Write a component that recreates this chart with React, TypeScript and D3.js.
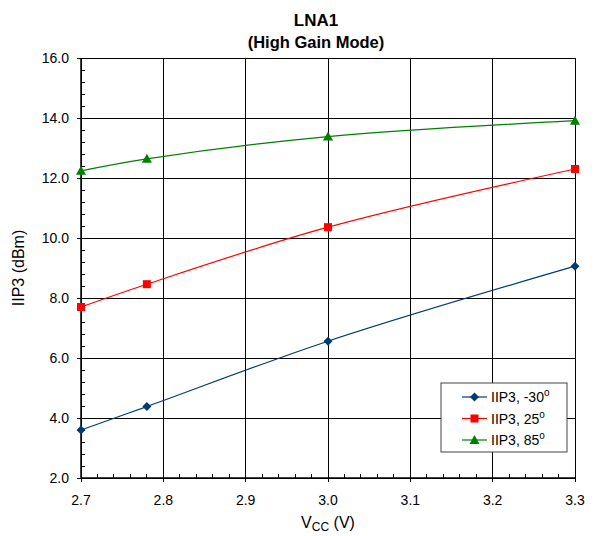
import React from "react";
import * as d3 from "d3";

const vcc = [2.7, 2.78, 3.0, 3.3];
const iip3Cold = [3.6, 4.38, 6.56, 9.06];
const iip3Room = [7.7, 8.46, 10.36, 12.3];
const iip3Hot = [12.24, 12.64, 13.38, 13.91];
const xTicks = [2.7, 2.8, 2.9, 3.0, 3.1, 3.2, 3.3];
const yTicks = [2, 4, 6, 8, 10, 12, 14, 16];
const seriesNames = ["IIP3, -30", "IIP3, 25", "IIP3, 85"];

const W = 594, H = 536;
const L = 81, R = 575, T = 58, B = 478;
const FONT = "'Liberation Sans', Arial, sans-serif";

export default function App() {
  const x = d3.scaleLinear().domain([2.7, 3.3]).range([L, R]);
  const y = d3.scaleLinear().domain([2, 16]).range([B, T]);
  const line = d3
    .line<[number, number]>()
    .x((d) => x(d[0]))
    .y((d) => y(d[1]))
    .curve(d3.curveCatmullRom.alpha(0.5));

  const series = [
    { name: seriesNames[0], vals: iip3Cold, color: "#003B73", marker: "diamond" },
    { name: seriesNames[1], vals: iip3Room, color: "#FF0000", marker: "square" },
    { name: seriesNames[2], vals: iip3Hot, color: "#008000", marker: "triangle" },
  ];

  const marker = (type: string, cx: number, cy: number, color: string, key: any) => {
    if (type === "diamond")
      return (
        <path key={key} d={`M${cx},${cy - 4.5}L${cx + 4.5},${cy}L${cx},${cy + 4.5}L${cx - 4.5},${cy}Z`} fill={color} />
      );
    if (type === "square")
      return <rect key={key} x={cx - 4} y={cy - 4} width={8} height={8} fill={color} />;
    return <path key={key} d={`M${cx},${cy - 5}L${cx + 5},${cy + 4}L${cx - 5},${cy + 4}Z`} fill={color} />;
  };

  const xMinor = d3.range(0, 31).map((i) => 2.7 + i * 0.02);
  const yMinor = d3.range(0, 36).map((i) => 2 + i * 0.4);

  const legX = 441, legY = 383, legW = 126, legH = 69;

  return (
    <svg width={W} height={H} style={{ display: "block", position: "absolute", left: 0, top: 0 }} fontFamily={FONT}>
      <rect width={W} height={H} fill="#fff" />
      <text x={316} y={26} textAnchor="middle" fontSize={17} fontWeight="bold">LNA1</text>
      <text x={316} y={48} textAnchor="middle" fontSize={16.5} fontWeight="bold">(High Gain Mode)</text>

      {/* grid */}
      {yTicks.map((t) => (
        <line key={"gy" + t} x1={L} x2={R} y1={y(t)} y2={y(t)} stroke="#000" strokeWidth={1} shapeRendering="crispEdges" />
      ))}
      {xTicks.map((t) => (
        <line key={"gx" + t} x1={x(t)} x2={x(t)} y1={T} y2={B} stroke="#000" strokeWidth={1} shapeRendering="crispEdges" />
      ))}

      {/* minor ticks */}
      {yMinor.map((t, i) => (
        <line key={"ym" + i} x1={L} x2={L + 4} y1={y(t)} y2={y(t)} stroke="#000" shapeRendering="crispEdges" />
      ))}
      {xMinor.map((t, i) => (
        <line key={"xm" + i} x1={x(t)} x2={x(t)} y1={B} y2={B - 4} stroke="#000" shapeRendering="crispEdges" />
      ))}
      {yTicks.map((t) => (
        <line key={"yM" + t} x1={L - 4} x2={L} y1={y(t)} y2={y(t)} stroke="#000" shapeRendering="crispEdges" />
      ))}
      {xTicks.map((t) => (
        <line key={"xM" + t} x1={x(t)} x2={x(t)} y1={B} y2={B + 4} stroke="#000" shapeRendering="crispEdges" />
      ))}
      <line x1={L} x2={L} y1={T} y2={B} stroke="#000" strokeWidth={1.5} />
      <line x1={L} x2={R} y1={B} y2={B} stroke="#000" strokeWidth={1.5} />

      {/* tick labels */}
      {yTicks.map((t) => (
        <text key={"yl" + t} x={69} y={y(t) + 5} textAnchor="end" fontSize={14}>
          {t.toFixed(1)}
        </text>
      ))}
      {xTicks.map((t) => (
        <text key={"xl" + t} x={x(t)} y={505} textAnchor="middle" fontSize={14}>
          {t.toFixed(1)}
        </text>
      ))}

      <text transform={`translate(24,268) rotate(-90)`} textAnchor="middle" fontSize={16}>
        IIP3 (dBm)
      </text>
      <text x={(L + R) / 2} y={528} textAnchor="middle" fontSize={16}>
        V<tspan fontSize={12} dy={3}>CC</tspan>
        <tspan dy={-3}> (V)</tspan>
      </text>

      {/* series */}
      {series.map((s, si) => {
        const pts = vcc.map((v, i) => [v, s.vals[i]] as [number, number]);
        return (
          <g key={"s" + si}>
            <path d={line(pts) || ""} fill="none" stroke={s.color} strokeWidth={1.2} />
            {pts.map((p, i) => marker(s.marker, x(p[0]), y(p[1]), s.color, i))}
          </g>
        );
      })}

      {/* legend */}
      <rect x={legX} y={legY} width={legW} height={legH} fill="#fff" stroke="#444" strokeWidth={1} />
      {series.map((s, i) => {
        const cy = legY + 14 + i * 21.5;
        return (
          <g key={"lg" + i}>
            <line x1={462} x2={487} y1={cy} y2={cy} stroke={s.color} strokeWidth={1.2} />
            {marker(s.marker, 474.5, cy, s.color, "m")}
            <text x={491} y={cy + 5} fontSize={14}>
              {s.name}
              <tspan fontSize={10} dy={-6}>o</tspan>
            </text>
          </g>
        );
      })}
    </svg>
  );
}
